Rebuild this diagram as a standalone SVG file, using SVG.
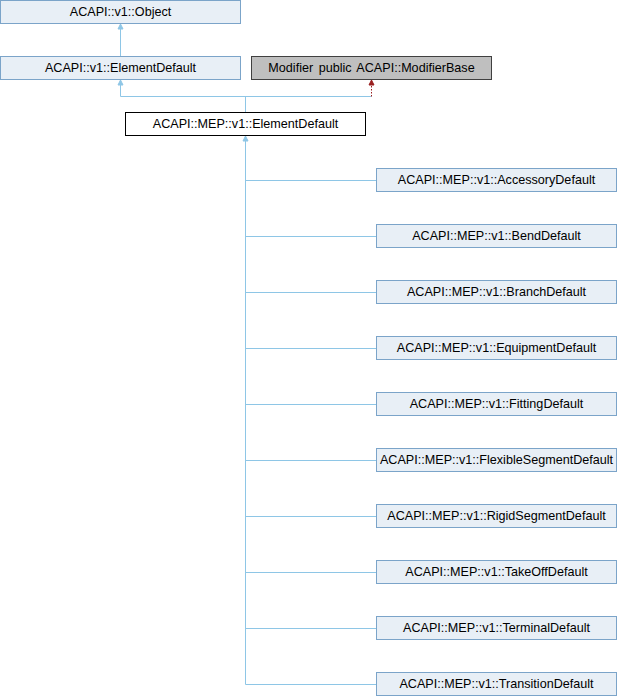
<svg xmlns="http://www.w3.org/2000/svg" width="617" height="696" viewBox="0 0 617 696">
<style>
.n rect{fill:#E8EFF6;stroke:#7BA4C9;stroke-width:1}
.n text{font-family:"Liberation Sans",Arial,sans-serif;font-size:12.6px;fill:#000;text-anchor:middle}
.e{stroke:#8EC6E6;stroke-width:1;fill:none}
.m{stroke:#9A2020;stroke-width:1;fill:none;stroke-dasharray:1.5,1.5}
.ah{fill:#8EC6E6;stroke:#8EC6E6}
.ar{fill:#9A2020;stroke:#9A2020}
</style>
<rect width="617" height="696" fill="#fff"/>
<g id="connectors">
<path class="e" d="M120.5,85 V96.5 H371.5"/>
<path class="e" d="M120.5,29 V56"/>
<path class="e" d="M245.5,96.5 V112"/>
<path class="m" d="M371.5,96.5 V85"/>
<path class="e" d="M245.5,141 V684.5"/>
<path class="e" d="M245.5,180.5 H376 M245.5,236.5 H376 M245.5,292.5 H376 M245.5,348.5 H376 M245.5,404.5 H376 M245.5,460.5 H376 M245.5,516.5 H376 M245.5,572.5 H376 M245.5,628.5 H376 M245.5,684.5 H376"/>
<polygon class="ah" points="120.5,24 118,29 123,29"/>
<polygon class="ah" points="120.5,80 118,85 123,85"/>
<polygon class="ar" points="371.5,80 369,85 374,85"/>
<polygon class="ah" points="245.5,136 243,141 248,141"/>
</g>
<g id="n_object" class="n"><rect x="0.5" y="0.5" width="240" height="23"/><text x="120.5" y="15.5">ACAPI::v1::Object</text></g>
<g id="n_elementdefault" class="n"><rect x="0.5" y="56.5" width="240" height="23"/><text x="120.5" y="71.5">ACAPI::v1::ElementDefault</text></g>
<g id="n_modifier" class="n"><rect x="251.5" y="56.5" width="240" height="23" style="fill:#BFBFBF;stroke:#404040"/><text x="371.5" y="71.5" style="word-spacing:2px">Modifier public ACAPI::ModifierBase</text></g>
<g id="n_mep_elementdefault" class="n"><rect x="125.5" y="112.5" width="240" height="23" style="fill:#fff;stroke:#000"/><text x="245.5" y="127.5">ACAPI::MEP::v1::ElementDefault</text></g>
<g id="n_accessory" class="n"><rect x="376.5" y="168.5" width="240" height="23"/><text x="496.5" y="183.5">ACAPI::MEP::v1::AccessoryDefault</text></g>
<g id="n_bend" class="n"><rect x="376.5" y="224.5" width="240" height="23"/><text x="496.5" y="239.5">ACAPI::MEP::v1::BendDefault</text></g>
<g id="n_branch" class="n"><rect x="376.5" y="280.5" width="240" height="23"/><text x="496.5" y="295.5">ACAPI::MEP::v1::BranchDefault</text></g>
<g id="n_equipment" class="n"><rect x="376.5" y="336.5" width="240" height="23"/><text x="496.5" y="351.5">ACAPI::MEP::v1::EquipmentDefault</text></g>
<g id="n_fitting" class="n"><rect x="376.5" y="392.5" width="240" height="23"/><text x="496.5" y="407.5">ACAPI::MEP::v1::FittingDefault</text></g>
<g id="n_flexible" class="n"><rect x="376.5" y="448.5" width="240" height="23"/><text x="496.5" y="463.5">ACAPI::MEP::v1::FlexibleSegmentDefault</text></g>
<g id="n_rigid" class="n"><rect x="376.5" y="504.5" width="240" height="23"/><text x="496.5" y="519.5">ACAPI::MEP::v1::RigidSegmentDefault</text></g>
<g id="n_takeoff" class="n"><rect x="376.5" y="560.5" width="240" height="23"/><text x="496.5" y="575.5">ACAPI::MEP::v1::TakeOffDefault</text></g>
<g id="n_terminal" class="n"><rect x="376.5" y="616.5" width="240" height="23"/><text x="496.5" y="631.5">ACAPI::MEP::v1::TerminalDefault</text></g>
<g id="n_transition" class="n"><rect x="376.5" y="672.5" width="240" height="23"/><text x="496.5" y="687.5">ACAPI::MEP::v1::TransitionDefault</text></g>
</svg>
